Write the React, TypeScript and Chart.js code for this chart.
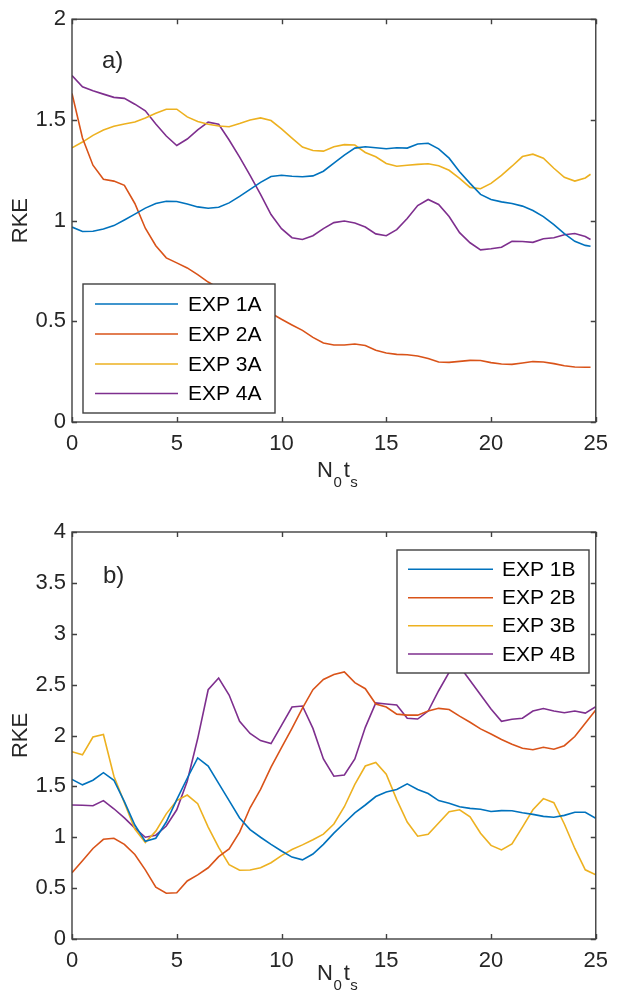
import React, { useEffect, useRef } from "react";
import { Chart, registerables } from "chart.js";

Chart.register(...registerables);

// ---------- DATA ----------
const tA = [0,0.5,1,1.5,2,2.5,3,3.5,4,4.5,5,5.5,6,6.5,7,7.5,8,8.5,9,9.5,10,10.5,11,11.5,12,12.5,13,13.5,14,14.5,15,15.5,16,16.5,17,17.5,18,18.5,19,19.5,20,20.5,21,21.5,22,22.5,23,23.5,24,24.5,24.75];
const tB = [0,0.5,1,1.5,2,2.5,3,3.5,4,4.5,5,5.5,6,6.5,7,7.5,8,8.5,9,9.5,10,10.5,11,11.5,12,12.5,13,13.5,14,14.5,15,15.5,16,16.5,17,17.5,18,18.5,19,19.5,20,20.5,21,21.5,22,22.5,23,23.5,24,24.5,25];

const exp1A = [0.968,0.946,0.947,0.958,0.975,1.003,1.032,1.062,1.085,1.096,1.095,1.082,1.068,1.061,1.066,1.088,1.12,1.155,1.19,1.219,1.225,1.22,1.218,1.222,1.245,1.285,1.325,1.36,1.367,1.362,1.357,1.362,1.36,1.38,1.384,1.356,1.31,1.243,1.185,1.13,1.105,1.093,1.085,1.072,1.05,1.02,0.98,0.935,0.897,0.877,0.873];
const exp2A = [1.631,1.41,1.275,1.205,1.196,1.175,1.085,0.962,0.875,0.815,0.79,0.765,0.732,0.695,0.665,0.643,0.62,0.592,0.565,0.54,0.51,0.482,0.455,0.42,0.392,0.382,0.382,0.387,0.38,0.356,0.343,0.336,0.334,0.328,0.315,0.298,0.296,0.301,0.306,0.305,0.295,0.288,0.286,0.293,0.3,0.298,0.29,0.279,0.273,0.272,0.272];
const exp3A = [1.361,1.39,1.423,1.45,1.468,1.48,1.49,1.51,1.533,1.553,1.553,1.515,1.492,1.478,1.47,1.466,1.482,1.5,1.51,1.497,1.455,1.41,1.365,1.348,1.345,1.367,1.377,1.375,1.338,1.317,1.284,1.27,1.275,1.279,1.282,1.272,1.25,1.21,1.165,1.158,1.185,1.225,1.27,1.318,1.33,1.31,1.26,1.215,1.196,1.212,1.23];
const exp4A = [1.72,1.664,1.645,1.628,1.612,1.607,1.578,1.545,1.48,1.42,1.373,1.405,1.45,1.489,1.478,1.4,1.315,1.225,1.13,1.03,0.96,0.915,0.906,0.925,0.96,0.99,0.998,0.988,0.968,0.934,0.925,0.955,1.01,1.075,1.105,1.08,1.02,0.94,0.89,0.855,0.86,0.868,0.897,0.896,0.892,0.91,0.915,0.93,0.936,0.921,0.906];

const exp1B = [1.569,1.515,1.56,1.635,1.56,1.35,1.12,0.96,0.99,1.15,1.37,1.58,1.78,1.7,1.53,1.36,1.19,1.075,1.0,0.93,0.865,0.805,0.778,0.835,0.93,1.04,1.14,1.24,1.317,1.4,1.445,1.47,1.525,1.47,1.43,1.36,1.335,1.3,1.284,1.275,1.253,1.262,1.26,1.24,1.225,1.205,1.197,1.215,1.245,1.245,1.186];
const exp2B = [0.652,0.77,0.89,0.98,0.99,0.93,0.83,0.68,0.51,0.45,0.455,0.57,0.63,0.7,0.81,0.885,1.05,1.29,1.47,1.69,1.88,2.07,2.27,2.45,2.55,2.6,2.625,2.52,2.46,2.31,2.28,2.21,2.2,2.2,2.24,2.267,2.255,2.19,2.13,2.065,2.015,1.96,1.915,1.875,1.86,1.885,1.865,1.9,1.99,2.12,2.25];
const exp3B = [1.841,1.81,1.985,2.01,1.6,1.34,1.08,0.948,1.06,1.23,1.36,1.415,1.33,1.1,0.9,0.73,0.675,0.678,0.7,0.75,0.82,0.88,0.925,0.975,1.03,1.13,1.3,1.52,1.7,1.735,1.62,1.37,1.15,1.01,1.03,1.14,1.25,1.27,1.2,1.04,0.92,0.875,0.935,1.1,1.27,1.38,1.34,1.13,0.89,0.68,0.63];
const exp4B = [1.317,1.315,1.31,1.36,1.28,1.19,1.09,1.0,1.02,1.11,1.27,1.55,1.97,2.45,2.565,2.398,2.14,2.02,1.95,1.92,2.1,2.28,2.29,2.07,1.77,1.6,1.612,1.77,2.08,2.32,2.31,2.3,2.17,2.162,2.24,2.44,2.62,2.68,2.54,2.4,2.26,2.14,2.16,2.17,2.24,2.265,2.24,2.224,2.24,2.22,2.283];

const namesA = ["EXP 1A", "EXP 2A", "EXP 3A", "EXP 4A"];
const namesB = ["EXP 1B", "EXP 2B", "EXP 3B", "EXP 4B"];
const xTicks = [0, 5, 10, 15, 20, 25];
const yTicksA = [0, 0.5, 1, 1.5, 2];
const yTicksB = [0, 0.5, 1, 1.5, 2, 2.5, 3, 3.5, 4];

// ---------- STYLE ----------
const COLORS = ["#0072BD", "#D95319", "#EDB120", "#7E2F8E"];
const FONT = "'Liberation Sans', Arial, Helvetica, sans-serif";
const TEXT = "#262626";
const AXIS = "#404040";

type Decor = {
  panel: string;
  panelX: number;
  panelY: number;
  legend: { x: number; y: number; w: number; h: number; rows: number[]; l1: number; l2: number; tx: number };
  names: string[];
  xTitleX: number;
  xTitleY: number;
  yTicks: number[];
};

function decorPlugin(d: Decor) {
  return {
    id: "decor" + d.panel,
    afterDraw(chart: any) {
      const ctx = chart.ctx as CanvasRenderingContext2D;
      const a = chart.chartArea;
      const xs = chart.scales.x;
      const ys = chart.scales.y;
      ctx.save();
      // frame
      ctx.strokeStyle = AXIS;
      ctx.lineWidth = 1.4;
      ctx.strokeRect(a.left, a.top, a.right - a.left, a.bottom - a.top);
      // inward ticks
      const tl = 5;
      ctx.beginPath();
      for (const v of xTicks) {
        const px = Math.round(xs.getPixelForValue(v)) + 0.5;
        ctx.moveTo(px, a.bottom); ctx.lineTo(px, a.bottom - tl);
        ctx.moveTo(px, a.top); ctx.lineTo(px, a.top + tl);
      }
      for (const v of d.yTicks) {
        const py = Math.round(ys.getPixelForValue(v)) + 0.5;
        ctx.moveTo(a.left, py); ctx.lineTo(a.left + tl, py);
        ctx.moveTo(a.right, py); ctx.lineTo(a.right - tl, py);
      }
      ctx.stroke();

      // panel label
      ctx.fillStyle = TEXT;
      ctx.font = `24px ${FONT}`;
      ctx.textAlign = "left";
      ctx.textBaseline = "alphabetic";
      ctx.fillText(d.panel, d.panelX, d.panelY);

      // y title
      ctx.save();
      ctx.translate(27, (a.top + a.bottom) / 2);
      ctx.rotate(-Math.PI / 2);
      ctx.textAlign = "center";
      ctx.font = `22px ${FONT}`;
      ctx.fillText("RKE", 0, 0);
      ctx.restore();

      // x title N_0 t_s
      let x = d.xTitleX;
      const big = `22px ${FONT}`;
      const small = `15px ${FONT}`;
      ctx.textAlign = "left";
      ctx.font = big; ctx.fillText("N", x, d.xTitleY); x += ctx.measureText("N").width + 0.5;
      ctx.font = small; ctx.fillText("0", x, d.xTitleY + 10); x += ctx.measureText("0").width + 2;
      ctx.font = big; ctx.fillText("t", x, d.xTitleY); x += ctx.measureText("t").width + 0.5;
      ctx.font = small; ctx.fillText("s", x, d.xTitleY + 10);

      // legend
      const L = d.legend;
      ctx.fillStyle = "#ffffff";
      ctx.fillRect(L.x, L.y, L.w, L.h);
      ctx.strokeStyle = AXIS;
      ctx.lineWidth = 1.4;
      ctx.strokeRect(L.x, L.y, L.w, L.h);
      ctx.font = `21px ${FONT}`;
      ctx.textBaseline = "middle";
      d.names.forEach((n, i) => {
        const yy = L.rows[i];
        ctx.strokeStyle = COLORS[i];
        ctx.lineWidth = 1.6;
        ctx.beginPath();
        ctx.moveTo(L.l1, yy); ctx.lineTo(L.l2, yy);
        ctx.stroke();
        ctx.fillStyle = "#000000";
        ctx.fillText(n, L.tx, yy + 1);
      });
      ctx.restore();
    },
  };
}

function buildConfig(
  t: number[],
  series: number[][],
  names: string[],
  yMax: number,
  yTicks: number[],
  padTop: number,
  xAxisH: number,
  decor: Decor
): any {
  return {
    type: "line",
    data: {
      datasets: series.map((s, i) => ({
        label: names[i],
        data: s.map((v, j) => ({ x: t[j], y: v })),
        borderColor: COLORS[i],
        backgroundColor: COLORS[i],
        borderWidth: 1.6,
        pointRadius: 0,
        tension: 0,
        fill: false,
      })),
    },
    options: {
      responsive: false,
      animation: false,
      devicePixelRatio: 1,
      layout: { padding: { top: padTop, right: 13, left: 0, bottom: 0 } },
      plugins: { legend: { display: false }, tooltip: { enabled: false } },
      scales: {
        x: {
          type: "linear",
          min: 0,
          max: 25,
          grid: { display: false, drawTicks: false },
          border: { display: false },
          afterBuildTicks: (s: any) => { s.ticks = xTicks.map((v) => ({ value: v })); },
          afterFit: (s: any) => { s.height = xAxisH; },
          ticks: {
            padding: 9,
            color: TEXT,
            font: { family: FONT, size: 22 },
            maxRotation: 0,
            callback: (v: number) => String(v),
          },
        },
        y: {
          type: "linear",
          min: 0,
          max: yMax,
          grid: { display: false, drawTicks: false },
          border: { display: false },
          afterBuildTicks: (s: any) => { s.ticks = yTicks.map((v) => ({ value: v })); },
          afterFit: (s: any) => { s.width = 72; },
          ticks: {
            padding: 6,
            color: TEXT,
            font: { family: FONT, size: 22 },
            callback: (v: number) => String(v),
          },
        },
      },
    },
    plugins: [decorPlugin(decor)],
  };
}

export default function App() {
  const refA = useRef<HTMLCanvasElement>(null);
  const refB = useRef<HTMLCanvasElement>(null);

  useEffect(() => {
    const cA = new Chart(
      refA.current!,
      buildConfig(tA, [exp1A, exp2A, exp3A, exp4A], namesA, 2, yTicksA, 15, 70, {
        panel: "a)",
        panelX: 102,
        panelY: 68,
        legend: { x: 83, y: 284, w: 192, h: 129, rows: [304, 334, 364, 393.5], l1: 95, l2: 178, tx: 188 },
        names: namesA,
        xTitleX: 317,
        xTitleY: 477,
        yTicks: yTicksA,
      })
    );
    const cB = new Chart(
      refB.current!,
      buildConfig(tB, [exp1B, exp2B, exp3B, exp4B], namesB, 4, yTicksB, 40, 66, {
        panel: "b)",
        panelX: 103,
        panelY: 91,
        legend: { x: 397, y: 58, w: 192, h: 123, rows: [77.3, 105.7, 133.7, 162], l1: 408, l2: 493, tx: 502 },
        names: namesB,
        xTitleX: 317,
        xTitleY: 488,
        yTicks: yTicksB,
      })
    );
    return () => {
      cA.destroy();
      cB.destroy();
    };
  }, []);

  return (
    <div style={{ position: "relative", width: 617, height: 1005 }}>
      <canvas ref={refA} width={617} height={492} style={{ position: "absolute", left: -8, top: -8, width: 617, height: 492 }} />
      <canvas ref={refB} width={617} height={513} style={{ position: "absolute", left: -8, top: 484, width: 617, height: 513 }} />
    </div>
  );
}
